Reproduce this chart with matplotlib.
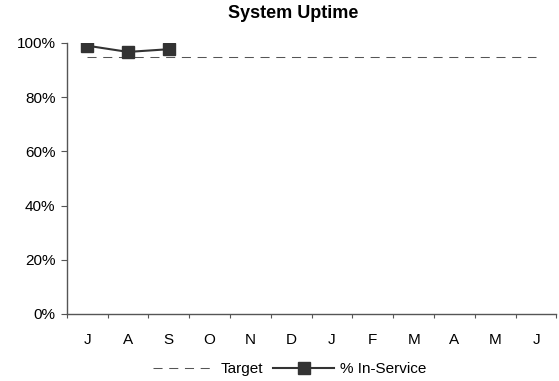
import matplotlib
matplotlib.use("Agg")
import matplotlib.pyplot as plt
from matplotlib.ticker import PercentFormatter

months = ["J", "A", "S", "O", "N", "D", "J", "F", "M", "A", "M", "J"]
in_service = [0.990, 0.967, 0.977]
target = 0.95
yticks = [0, 0.2, 0.4, 0.6, 0.8, 1.0]

plt.rcParams['font.family'] = ['Liberation Sans', 'DejaVu Sans']
fig = plt.figure(figsize=(5.59, 3.81), dpi=100)
ax = fig.add_axes([0.1193, 0.1759, 0.8762, 0.7113])

x = list(range(len(months)))
tl, = ax.plot([x[0], x[-1]], [target, target], linestyle=(0, (8.7, 6.4)),
              color='#555555', linewidth=0.75, label='Target')
sl, = ax.plot(x[:len(in_service)], in_service, color='#333333', linewidth=1.5,
              marker='s', markersize=8, markerfacecolor='#333333',
              markeredgecolor='#333333', markeredgewidth=1, label='% In-Service')

ax.set_xlim(-0.5, len(months) - 0.5)
ax.set_ylim(0, 1.0)
ax.set_yticks(yticks)
ax.yaxis.set_major_formatter(PercentFormatter(1.0, decimals=0))
ax.set_xticks([i - 0.5 for i in range(len(months) + 1)])
ax.set_xticklabels([])
ax.set_xticks(x, minor=True)
ax.set_xticklabels(months, minor=True)
ax.tick_params(axis='x', which='minor', length=0, pad=14, labelsize=11)
ax.tick_params(axis='x', which='major', length=3, direction='out', color='#555555')
ax.tick_params(axis='y', length=4.5, direction='out', labelsize=11, color='#555555', pad=3.5)
for s in ['top', 'right']:
    ax.spines[s].set_visible(False)
for s in ['left', 'bottom']:
    ax.spines[s].set_color('#555555')
    ax.spines[s].set_linewidth(1.0)

fig.text(293.5 / 559, 1 - 14 / 381, 'System Uptime', fontsize=13, fontweight='bold',
         ha='center', va='center')
fig.legend(handles=[tl, sl], loc='center', bbox_to_anchor=(290 / 559, 1 - 369 / 381), ncol=2,
           frameon=False, fontsize=11, handlelength=4.0, columnspacing=0.65,
           handletextpad=0.4, borderpad=0, borderaxespad=0)

fig.savefig('out.png', dpi=100)
